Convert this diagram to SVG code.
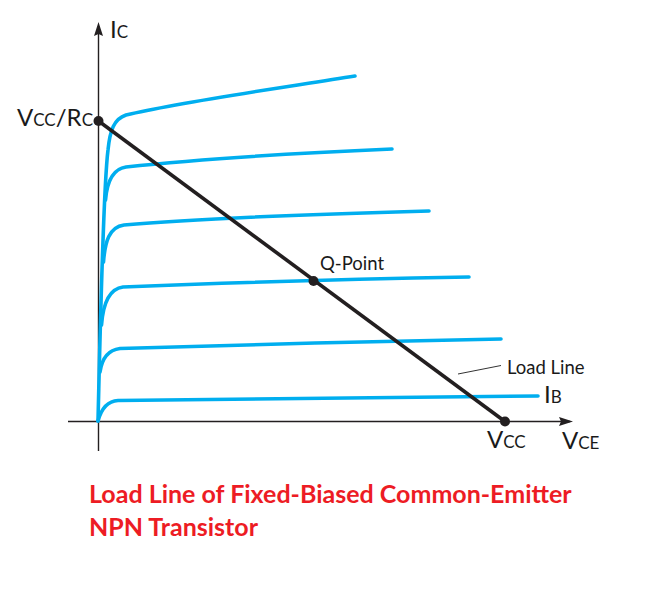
<svg xmlns="http://www.w3.org/2000/svg" width="652" height="595" viewBox="0 0 652 595">
<style>
.axis{fill:none;stroke:#231f20;stroke-width:1.4}
.curve{fill:none;stroke:#00aeef;stroke-width:3.6;stroke-linecap:round;stroke-linejoin:round}
.load{fill:none;stroke:#231f20;stroke-width:3.6}
.dot{fill:#231f20}
text{font-family:Lato,"Open Sans","DejaVu Sans",sans-serif;fill:#1a1a1a}
.big{font-size:24px}
.sm{font-size:17px}
.lbl{font-size:18.500px}
.title{font-size:25px;font-weight:700;fill:#ed1c24}
</style>
<rect width="652" height="595" fill="#fff"/>
<g id="connectors">
<path class="axis" d="M98.500 30V451"/>
<path class="axis" d="M68 421.500H570"/>
<path class="dot" d="M98.500 22L103 36L98.500 34L94 36Z"/>
<path class="dot" d="M573 421.500L559 417L561 421.500L559 426Z"/>
<path class="curve" d="M98 421C100 340 103 190 108 150C110 130 114 119 126 115C180 102 280 88 355 76"/>
<path class="curve" d="M105.500 200C107 182 112 169 126 167C190 160 300 153 392 149"/>
<path class="curve" d="M103.500 262C105 242 109 227 124 225C200 218 320 214 429 211"/>
<path class="curve" d="M101.500 325C103 305 108 289 123 287C220 283 360 279 469 277"/>
<path class="curve" d="M100 372C102 358 108 350 120 348.500C240 345 380 341 501 339"/>
<path class="curve" d="M98 421C101 410 107 401 118 400.500C260 399 400 397 538 396"/>
<path class="load" d="M98.500 121L505 421.500"/>
<path d="M458 374L501 365.500" fill="none" stroke="#333" stroke-width="1"/>
</g>
<g id="point-vcc-rc"><circle class="dot" cx="98.500" cy="121" r="5"/>
<text x="17" y="126" class="big">V<tspan class="sm">CC</tspan>/R<tspan class="sm">C</tspan></text></g>
<g id="point-q"><circle class="dot" cx="313.500" cy="281" r="5"/>
<text x="320" y="270" class="lbl">Q-Point</text></g>
<g id="point-vcc"><circle class="dot" cx="505" cy="421.500" r="5"/>
<text x="487" y="448" class="big">V<tspan class="sm">CC</tspan></text></g>
<g id="label-ic"><text x="110" y="38" class="big">I<tspan class="sm">C</tspan></text></g>
<g id="label-vce"><text x="562" y="449" class="big">V<tspan class="sm">CE</tspan></text></g>
<g id="label-ib"><text x="544" y="403" class="big">I<tspan class="sm">B</tspan></text></g>
<g id="label-load"><text x="507" y="374" class="lbl">Load Line</text></g>
<g id="title"><text x="89" y="503" class="title">Load Line of Fixed-Biased Common-Emitter</text>
<text x="89" y="536" class="title">NPN Transistor</text></g>
</svg>
